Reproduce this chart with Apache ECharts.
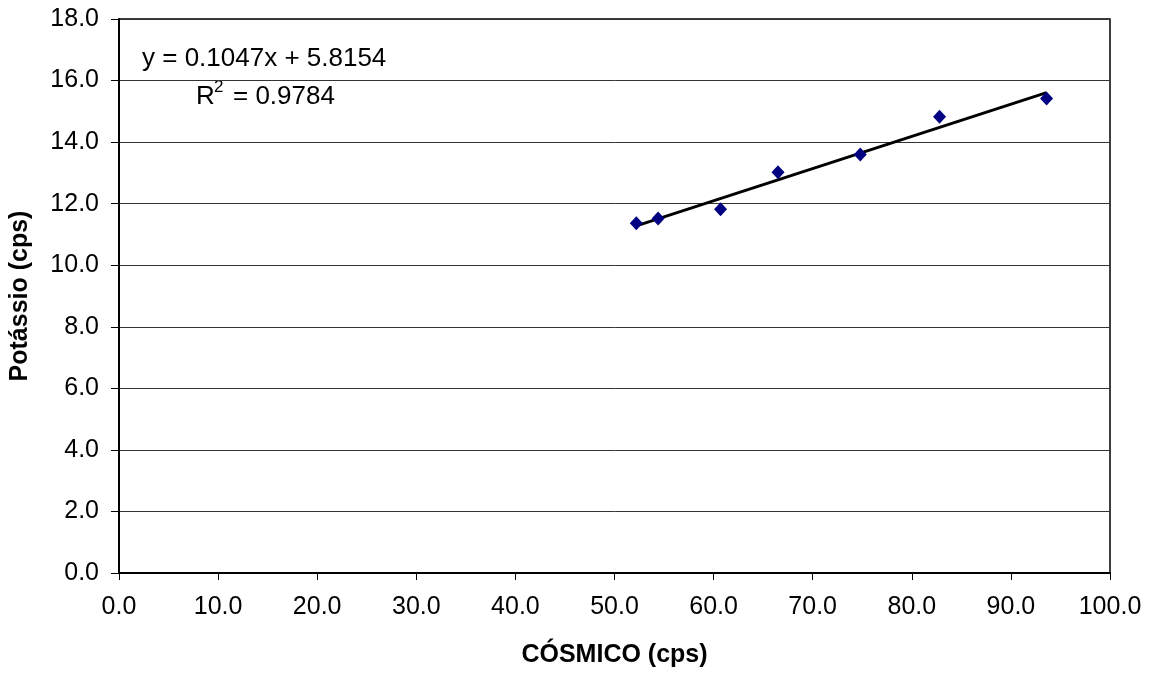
<!DOCTYPE html>
<html>
<head>
<meta charset="utf-8">
<script src="https://cdn.jsdelivr.net/npm/echarts@6/dist/echarts.min.js"></script>
<style>
  html, body { margin: 0; padding: 0; background: #fff; }
  #chart { width: 1155px; height: 676px; }
</style>
</head>
<body>
<div id="chart"></div>
<script>
// pontos medidos
var cosmico = [52.2, 54.4, 60.7, 66.5, 74.8, 82.8, 93.6];
var potassio = [11.36, 11.52, 11.82, 13.02, 13.6, 14.82, 15.42];
// extremos da linha de tendência
var trendX = [52.2, 93.6];
var trendY = [11.28, 15.61];

var eqText = 'y = 0.1047x + 5.8154';
var r2Text = '0.9784';

var chart = echarts.init(document.getElementById('chart'));
var font = 'Liberation Sans, Arial, sans-serif';

var option = {
  animation: false,
  grid: {
    left: 118, right: 45, top: 19, bottom: 103,
    show: true,
    borderColor: '#000',
    borderWidth: 1.5
  },
  xAxis: {
    type: 'value',
    min: 0, max: 100, interval: 10,
    name: 'CÓSMICO (cps)',
    nameLocation: 'middle',
    nameGap: 70,
    nameTextStyle: { fontFamily: font, fontSize: 25, fontWeight: 'bold', color: '#000' },
    axisLine: { lineStyle: { color: '#000', width: 2 } },
    axisTick: { show: true, length: 7, lineStyle: { color: '#000', width: 1 } },
    axisLabel: {
      fontFamily: font, fontSize: 25, color: '#000', margin: 22,
      formatter: function (v) { return v.toFixed(1); }
    },
    splitLine: { show: false }
  },
  yAxis: {
    type: 'value',
    min: 0, max: 18, interval: 2,
    name: 'Potássio (cps)',
    nameLocation: 'middle',
    nameGap: 86,
    nameTextStyle: { fontFamily: font, fontSize: 25, fontWeight: 'bold', color: '#000' },
    axisLine: { show: true, lineStyle: { color: '#000', width: 2 } },
    axisTick: { show: true, length: 8, lineStyle: { color: '#000', width: 1 } },
    axisLabel: {
      fontFamily: font, fontSize: 25, color: '#000', margin: 20,
      formatter: function (v) { return v.toFixed(1); }
    },
    splitLine: { show: true, lineStyle: { color: '#333', width: 1 } }
  },
  series: [
    {
      type: 'line',
      data: trendX.map(function (x, i) { return [x, trendY[i]]; }),
      symbol: 'none',
      lineStyle: { color: '#000', width: 3 },
      z: 2
    },
    {
      type: 'scatter',
      data: cosmico.map(function (x, i) { return [x, potassio[i]]; }),
      symbol: 'diamond',
      symbolSize: [13, 14],
      itemStyle: { color: '#000080', opacity: 1 },
      z: 3
    }
  ],
  graphic: [
    { type: 'text', left: 142, top: 46, style: { text: eqText, font: '26px ' + font, fill: '#000' } },
    { type: 'text', left: 196, top: 84, style: { text: 'R', font: '26px ' + font, fill: '#000' } },
    { type: 'text', left: 214, top: 79, style: { text: '2', font: '17px ' + font, fill: '#000' } },
    { type: 'text', left: 233, top: 84, style: { text: '= ' + r2Text, font: '26px ' + font, fill: '#000' } }
  ]
};

chart.setOption(option);
window.addEventListener('resize', function () { chart.resize(); });
</script>
</body>
</html>
